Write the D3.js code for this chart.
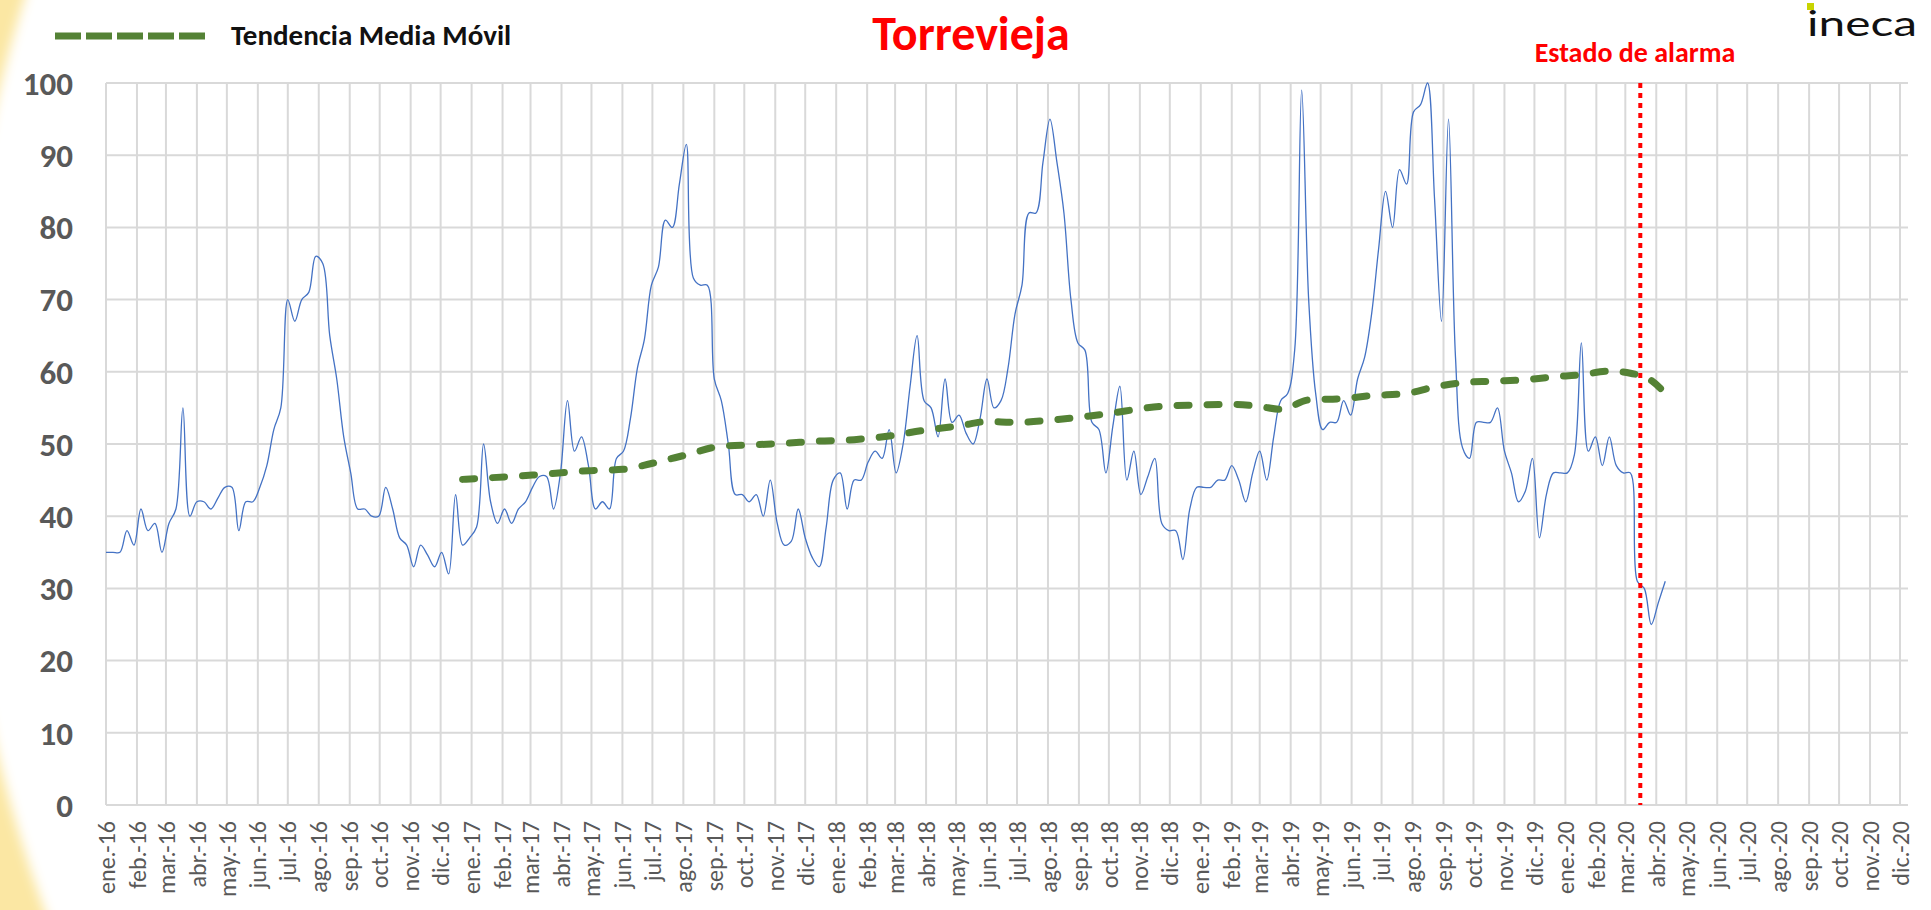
<!DOCTYPE html>
<html>
<head>
<meta charset="utf-8">
<script src="https://cdn.jsdelivr.net/npm/d3@7"></script>
<style>
  html, body { margin: 0; padding: 0; background: #fff; }
  svg { display: block; font-family: Carlito, Lato, "Open Sans", sans-serif; }
</style>
</head>
<body>
<script>
// weekly values, first week 1 Jan 2016
var firstWeek = "2016-01-01";
var values = [
  35, 35, 35, 38, 36, 41, 38, 39, 35, 39, 41, 55, 40, 42, 42, 41, 42.5, 44, 44, 38,
  42, 42, 44, 47, 52, 55, 70, 67, 70, 71, 76, 75, 65, 59, 51, 46, 41, 41, 40, 40,
  44, 41, 37, 36, 33, 36, 34.6, 33, 35, 32, 43, 36, 37, 38.5, 50, 42, 39, 41, 39, 41,
  42, 44, 45.5, 45.5, 41, 46, 56, 49, 51, 47, 41, 42, 41, 48, 49, 53.5, 60.5, 64.5, 72, 74.5,
  81, 80, 86, 91.5, 73, 72, 72, 59, 56, 50, 43, 43, 42, 43, 40, 45, 39, 36, 36.5, 41,
  37, 34.3, 33, 38.5, 45, 46, 41, 45, 45, 47.5, 49, 48, 52, 46, 50, 58, 65, 56, 55, 51,
  59, 53, 54, 51.5, 50, 53.5, 59, 55, 56, 60.5, 68, 72, 82, 82, 89, 95, 89, 82, 70, 64,
  63, 53, 52, 46, 52.5, 58, 45, 49, 43, 45.5, 48, 39, 38, 38, 34, 41, 44, 44, 44, 45,
  45, 47, 45, 42, 46, 49, 45, 51, 56, 57, 63, 99, 70, 57, 52, 53, 53, 56, 54, 59,
  62, 68, 77, 85, 80, 88, 86, 96, 97, 100, 84, 67, 95, 62, 49.5, 48, 53, 53, 53, 55,
  49, 46, 42, 43.5, 48, 37, 43, 46, 46, 46, 48.5, 64, 49, 51, 47, 51, 47, 46, 46, 31,
  30, 25, 28, 31
];

// moving average trend (week index -> value)
var trendWeeks = [51, 61, 69, 74, 78, 83, 88, 93, 97, 102, 107, 112, 117, 122, 126, 130, 135, 139, 144, 148,
  152, 156, 161, 165, 168, 172, 177, 181, 186, 190, 194, 198, 203, 207, 211, 215, 218, 221, 223];
var trendValues = [45.1, 45.7, 46.3, 46.5, 47.3, 48.5, 49.7, 49.9, 50.1, 50.4, 50.6, 51.1, 51.9, 52.5, 53.1, 53.0, 53.3, 53.7, 54.3, 54.9,
  55.3, 55.4, 55.5, 55.2, 54.8, 56.1, 56.3, 56.7, 57.0, 57.9, 58.5, 58.7, 58.9, 59.3, 59.6, 60.1, 59.8, 58.8, 57.0];

var monthNames = ["ene.", "feb.", "mar.", "abr.", "may.", "jun.", "jul.", "ago.", "sep.", "oct.", "nov.", "dic."];
var yTicks = [0, 10, 20, 30, 40, 50, 60, 70, 80, 90, 100];
var axisStart = "2016-01-01", axisEnd = "2020-12-09";
var alarmDate = "2020-03-16";

var width = 1931, height = 910;
var margin = {top: 83, right: 23, bottom: 105, left: 106};

var parse = d3.utcParse("%Y-%m-%d");
var t0 = parse(firstWeek);
var weekDate = i => d3.utcDay.offset(t0, 7 * i);

var x = d3.scaleUtc()
    .domain([parse(axisStart), parse(axisEnd)])
    .range([margin.left, width - margin.right]);
var y = d3.scaleLinear()
    .domain([0, 100])
    .range([height - margin.bottom, margin.top]);

var svg = d3.select("body").append("svg")
    .attr("width", width)
    .attr("height", height);

// pale yellow background with the big white disc
svg.append("rect").attr("width", width).attr("height", height).attr("fill", "#fbe7a3");
var defs = svg.append("defs");
defs.append("filter").attr("id", "soft")
  .append("feGaussianBlur").attr("stdDeviation", 6);
svg.append("circle")
    .attr("cx", 1380).attr("cy", 425).attr("r", 1421)
    .attr("fill", "#fff")
    .attr("filter", "url(#soft)");

// grid
var months = d3.utcMonth.range(parse(axisStart), parse(axisEnd));
svg.append("g")
  .selectAll("line")
  .data(yTicks)
  .join("line")
    .attr("x1", margin.left).attr("x2", width - margin.right)
    .attr("y1", d => y(d)).attr("y2", d => y(d))
    .attr("stroke", "#d9d9d9").attr("stroke-width", 2);
svg.append("g")
  .selectAll("line")
  .data(months)
  .join("line")
    .attr("x1", d => x(d)).attr("x2", d => x(d))
    .attr("y1", y(100)).attr("y2", y(0))
    .attr("stroke", "#d9d9d9").attr("stroke-width", 2);

// y labels
svg.append("g")
    .attr("font-size", 33)
    .attr("font-weight", "bold")
    .attr("fill", "#595959")
    .attr("text-anchor", "end")
  .selectAll("text")
  .data(yTicks)
  .join("text")
    .attr("x", 73)
    .attr("y", d => y(d))
    .attr("dy", "0.36em")
    .text(d => d);

// x labels
svg.append("g")
    .attr("font-size", 24)
    .attr("fill", "#595959")
    .attr("text-anchor", "end")
  .selectAll("text")
  .data(months)
  .join("text")
    .attr("transform", d => `translate(${x(d)},821) rotate(-90)`)
    .attr("dy", "0.36em")
    .text(d => monthNames[d.getUTCMonth()] + "-" + String(d.getUTCFullYear()).slice(2));

// weekly series
var line = d3.line()
    .x((d, i) => x(weekDate(i)))
    .y(d => y(d))
    .curve(d3.curveCatmullRom.alpha(0.5));
svg.append("path")
    .datum(values)
    .attr("fill", "none")
    .attr("stroke", "#4472c4")
    .attr("stroke-width", 1.3)
    .attr("d", line);

// moving average trend
var trend = trendWeeks.map((w, i) => ({w: w, v: trendValues[i]}));
svg.append("path")
    .datum(trend)
    .attr("fill", "none")
    .attr("stroke", "#548235")
    .attr("stroke-width", 7)
    .attr("stroke-linecap", "round")
    .attr("stroke-dasharray", "12 18")
    .attr("d", d3.line()
      .x(d => x(weekDate(d.w)))
      .y(d => y(d.v))
      .curve(d3.curveMonotoneX));

// state of alarm marker
svg.append("line")
    .attr("x1", x(parse(alarmDate))).attr("x2", x(parse(alarmDate)))
    .attr("y1", y(100)).attr("y2", y(0))
    .attr("stroke", "#ff0000")
    .attr("stroke-width", 4)
    .attr("stroke-dasharray", "5 5");
svg.append("text")
    .attr("x", 1635).attr("y", 62)
    .attr("text-anchor", "middle")
    .attr("font-size", 28)
    .attr("font-weight", "bold")
    .attr("fill", "#ff0000")
    .text("Estado de alarma");

// title
svg.append("text")
    .attr("x", 971).attr("y", 50)
    .attr("text-anchor", "middle")
    .attr("font-size", 48)
    .attr("font-weight", "bold")
    .attr("fill", "#ff0000")
    .text("Torrevieja");

// legend
svg.append("line")
    .attr("x1", 55).attr("x2", 209)
    .attr("y1", 36).attr("y2", 36)
    .attr("stroke", "#548235")
    .attr("stroke-width", 7)
    .attr("stroke-dasharray", "26 5");
svg.append("text")
    .attr("x", 231).attr("y", 45)
    .attr("font-size", 29)
    .attr("font-weight", "bold")
    .attr("fill", "#111")
    .text("Tendencia Media Móvil");

// logo
svg.append("text")
    .attr("x", 1807).attr("y", 36)
    .attr("font-family", "Lato, sans-serif")
    .attr("font-size", 35)
    .attr("textLength", 110)
    .attr("lengthAdjust", "spacingAndGlyphs")
    .attr("fill", "#111")
    .text("ineca");
svg.append("rect")
    .attr("x", 1807).attr("y", 3)
    .attr("width", 7).attr("height", 7)
    .attr("fill", "#c8d400");
</script>
</body>
</html>
